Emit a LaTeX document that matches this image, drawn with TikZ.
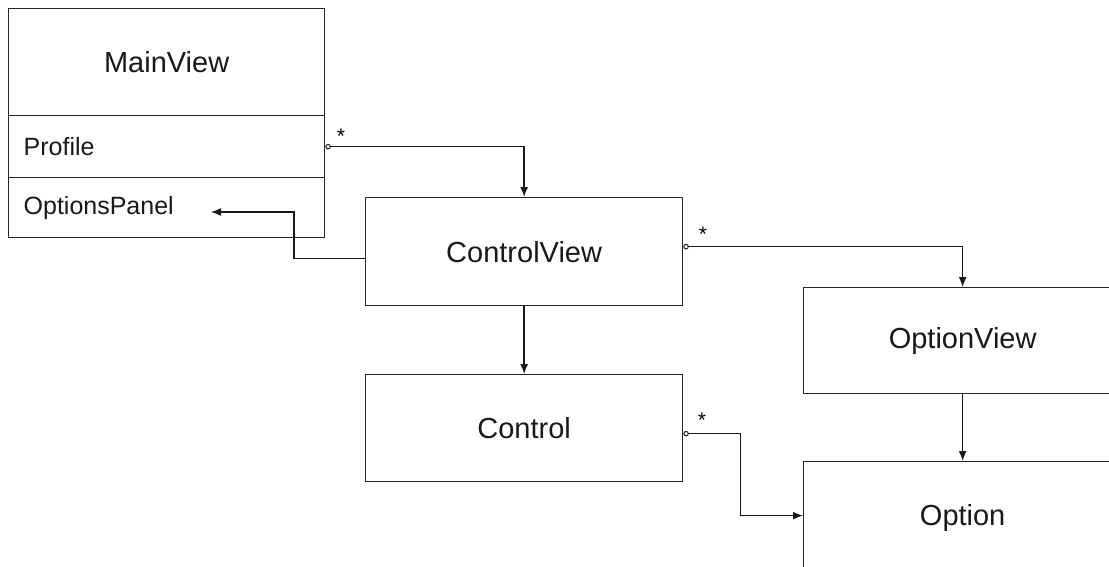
\documentclass[tikz,border=0pt]{standalone}
\usepackage{fontspec}
\setmainfont{Liberation Sans}
\usetikzlibrary{arrows.meta}
\begin{document}
\begin{tikzpicture}[x=1pt,y=-1pt,
  box/.style={draw=black!85, line width=1.3pt, rectangle, inner sep=0pt, anchor=north west, font=\fontsize{29}{34}\selectfont, text=black!90},
  attr/.style={box, font=\fontsize{25}{30}\selectfont, align=left, text width=286pt, inner xsep=15pt, inner ysep=0pt, minimum width=316pt},
  arr/.style={draw=black!90, line width=1.4pt, -{Latex[length=10pt,width=8pt]}},
  agg/.style={arr, {Circle[open,length=5.5pt,width=5.5pt,line width=1pt]}-{Latex[length=10pt,width=8pt]}},
  star/.style={font=\fontsize{21}{24}\selectfont, inner sep=0pt, anchor=base}
]
\useasboundingbox (0,0) rectangle (1109,566);
\clip (0,0) rectangle (1109,566);

% MainView class
\node[box, minimum width=316pt, minimum height=107pt] (mv) at (8,8) {MainView};
\node[attr, minimum height=62pt] (profile) at (8,115) {Profile};
\node[attr, minimum height=60pt] (opanel) at (8,177) {OptionsPanel};

% other classes
\node[box, minimum width=317pt, minimum height=108pt] (cv) at (365,197) {ControlView};
\node[box, minimum width=317pt, minimum height=107pt] (ctl) at (365,374) {Control};
\node[box, minimum width=318pt, minimum height=106pt] (ov) at (803,287) {OptionView};
\node[box, minimum width=318pt, minimum height=112pt] (opt) at (803,461) {Option};

\coordinate (optend) at (211,212);

% connectors
\draw[agg] (profile.east) -| (cv.north);
\draw[arr] ([yshift=-7pt]cv.west) -- ++(-71,0) |- (optend);
\draw[agg] ([yshift=5pt]cv.east) -| (ov.north);
\draw[arr] (cv.south) -- (ctl.north);
\draw[agg] ([yshift=-5.5pt]ctl.east) -- ++(57,0) |- ([yshift=2pt]opt.west);
\draw[arr] (ov.south) -- (opt.north);

% multiplicities
\node[star] (s1) at (341,143.5) {*};
\node[star] (s2) at (703,241.5) {*};
\node[star] (s3) at (702,427.5) {*};
\end{tikzpicture}
\end{document}
